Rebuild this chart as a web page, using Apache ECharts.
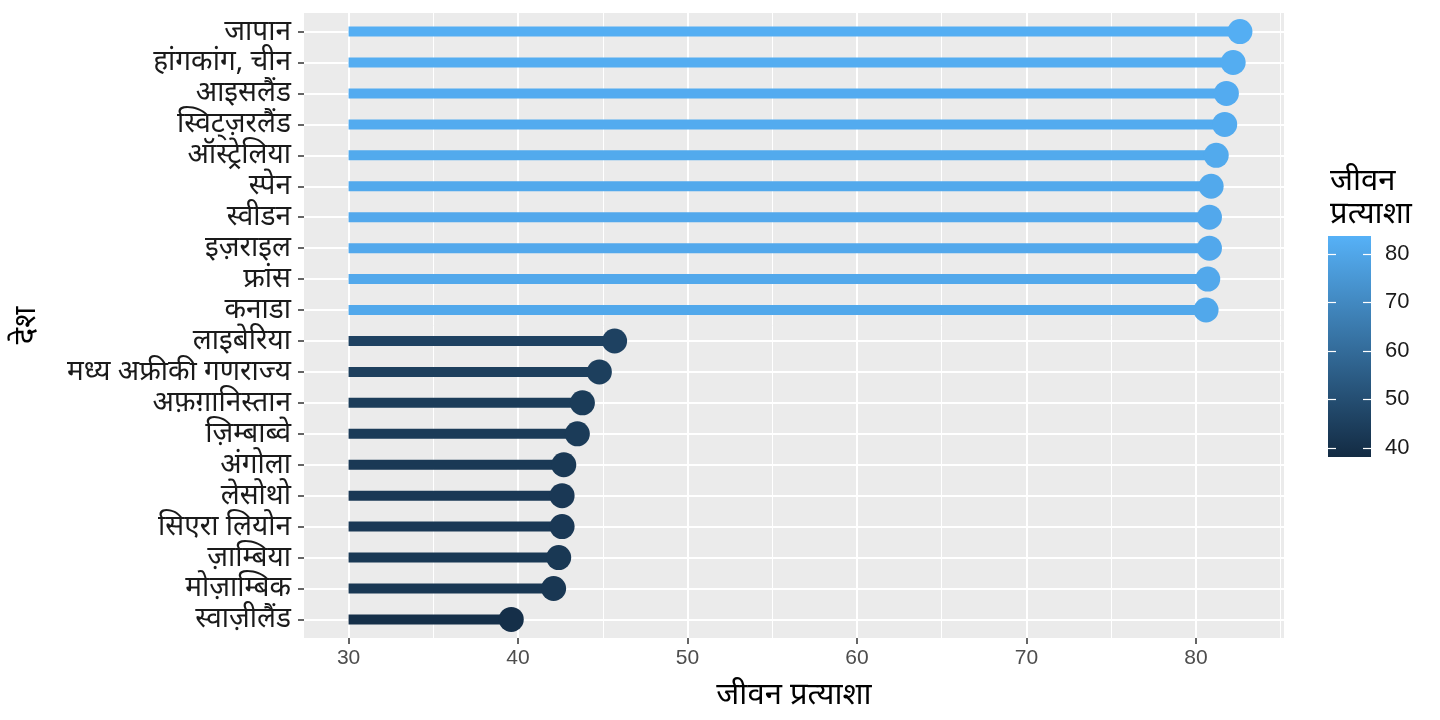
<!DOCTYPE html>
<html>
<head>
<meta charset="utf-8">
<script src="https://cdn.jsdelivr.net/npm/echarts@6/dist/echarts.min.js"></script>
<style>
    html, body { margin: 0; padding: 0; background: #ffffff; }
    #chart { width: 1440px; height: 720px; }
</style>
</head>
<body>
<div id="chart"></div>
<script>
// 国家（从上到下）
var countries = ['जापान', 'हांगकांग, चीन', 'आइसलैंड', 'स्विट्ज़रलैंड', 'ऑस्ट्रेलिया', 'स्पेन', 'स्वीडन', 'इज़राइल', 'फ्रांस', 'कनाडा',
    'लाइबेरिया', 'मध्य अफ्रीकी गणराज्य', 'अफ़ग़ानिस्तान', 'ज़िम्बाब्वे', 'अंगोला', 'लेसोथो', 'सिएरा लियोन', 'ज़ाम्बिया', 'मोज़ाम्बिक', 'स्वाज़ीलैंड'];
// 预期寿命
var lifeExp = [82.6, 82.2, 81.8, 81.7, 81.2, 80.9, 80.8, 80.8, 80.7, 80.6,
    45.7, 44.8, 43.8, 43.5, 42.7, 42.6, 42.6, 42.4, 42.1, 39.6];
var stemStart = 30;
var xTicks = [30, 40, 50, 60, 70, 80];
var xMinorTicks = [35, 45, 55, 65, 75, 85];
var legendTicks = [40, 50, 60, 70, 80];
var colorRange = ['#132B43', '#56B1F7'];

var hindiFont = "'Noto Sans', 'Noto Sans Devanagari', sans-serif";
var numFont = "'Liberation Sans', Arial, sans-serif";

(function () {
    var myEchart = echarts.init(document.getElementById('chart'));
    var rows = lifeExp.map(function (v, i) { return [v, i]; });
    var yIdx = countries.map(function (c, i) { return i; });

    var option = {
        backgroundColor: '#ffffff',
        animation: false,
        title: {
            text: 'जीवन\nप्रत्याशा',
            left: 1325,
            top: 160,
            textStyle: { fontFamily: hindiFont, fontSize: 31, fontWeight: 'normal', color: '#000', lineHeight: 33 }
        },
        grid: [
            // 主图
            { left: 304, right: 156, top: 13, bottom: 82, show: true, backgroundColor: '#EBEBEB', borderWidth: 0 },
            // 图例色条
            {
                left: 1328, top: 236, width: 43, height: 221, show: true, borderWidth: 0,
                backgroundColor: new echarts.graphic.LinearGradient(0, 0, 0, 1, [
                    { offset: 0, color: colorRange[1] },
                    { offset: 1, color: colorRange[0] }
                ])
            }
        ],
        visualMap: {
            type: 'continuous',
            show: false,
            dimension: 0,
            seriesIndex: [0, 1],
            min: 38.1,
            max: 83.7,
            inRange: { color: colorRange }
        },
        xAxis: [
            {
                gridIndex: 0,
                type: 'value',
                min: 27.37,
                max: 85.2,
                name: 'जीवन प्रत्याशा',
                nameLocation: 'middle',
                nameGap: 42,
                nameTextStyle: { fontFamily: hindiFont, fontSize: 31, color: '#000' },
                axisLine: { show: false, onZero: false },
                axisTick: { show: true, customValues: xTicks, length: 6, lineStyle: { color: '#333', width: 1.5 } },
                axisLabel: { customValues: xTicks, color: '#4D4D4D', fontSize: 21, fontFamily: numFont, margin: 10 },
                splitLine: { show: true, lineStyle: { color: '#ffffff', width: 2 } }
            },
            {
                // 次网格线
                gridIndex: 0,
                type: 'value',
                min: 27.37,
                max: 85.2,
                axisLine: { show: false, onZero: false },
                axisTick: { show: false, customValues: xMinorTicks },
                axisLabel: { show: false, customValues: xMinorTicks },
                splitLine: { show: true, lineStyle: { color: '#ffffff', width: 1 } }
            },
            {
                gridIndex: 1,
                type: 'value',
                show: false
            }
        ],
        yAxis: [
            {
                gridIndex: 0,
                type: 'value',
                inverse: true,
                min: -0.6,
                max: 19.6,
                name: 'देश',
                nameLocation: 'middle',
                nameRotate: 90,
                nameGap: 262,
                nameTextStyle: { fontFamily: hindiFont, fontSize: 31, color: '#000' },
                axisLine: { show: false, onZero: false },
                axisTick: { show: true, customValues: yIdx, length: 6, lineStyle: { color: '#333', width: 1.5 } },
                axisLabel: {
                    customValues: yIdx,
                    color: '#1a1a1a',
                    fontSize: 28,
                    fontFamily: hindiFont,
                    margin: 13,
                    formatter: function (v) { return countries[v]; }
                },
                splitLine: { show: true, lineStyle: { color: '#ffffff', width: 2 } }
            },
            {
                // 图例刻度（右）
                gridIndex: 1,
                type: 'value',
                min: 38.1,
                max: 83.7,
                position: 'right',
                z: 10,
                axisLine: { show: false, onZero: false },
                axisTick: { show: true, inside: true, customValues: legendTicks, length: 8, lineStyle: { color: '#ffffff', width: 1.2 } },
                axisLabel: { customValues: legendTicks, color: '#1a1a1a', fontSize: 22, fontFamily: numFont, margin: 14 },
                splitLine: { show: false }
            },
            {
                // 图例刻度（左）
                gridIndex: 1,
                type: 'value',
                min: 38.1,
                max: 83.7,
                position: 'left',
                z: 10,
                axisLine: { show: false, onZero: false },
                axisTick: { show: true, inside: true, customValues: legendTicks, length: 8, lineStyle: { color: '#ffffff', width: 1.2 } },
                axisLabel: { show: false },
                splitLine: { show: false }
            }
        ],
        series: [
            {
                // 棒
                type: 'custom',
                xAxisIndex: 0,
                yAxisIndex: 0,
                encode: { x: 0, y: 1 },
                data: rows,
                renderItem: function (params, api) {
                    var p0 = api.coord([stemStart, api.value(1)]);
                    var p1 = api.coord([api.value(0), api.value(1)]);
                    return {
                        type: 'line',
                        shape: { x1: p0[0], y1: p0[1], x2: p1[0], y2: p1[1] },
                        style: { stroke: api.visual('color'), lineWidth: 10 }
                    };
                }
            },
            {
                // 点
                type: 'scatter',
                xAxisIndex: 0,
                yAxisIndex: 0,
                data: rows,
                symbolSize: 25,
                itemStyle: { opacity: 1 },
                z: 3
            }
        ]
    };
    myEchart.setOption(option);
    window.addEventListener('resize', function () {
        myEchart.resize();
    })
})();
</script>
</body>
</html>
